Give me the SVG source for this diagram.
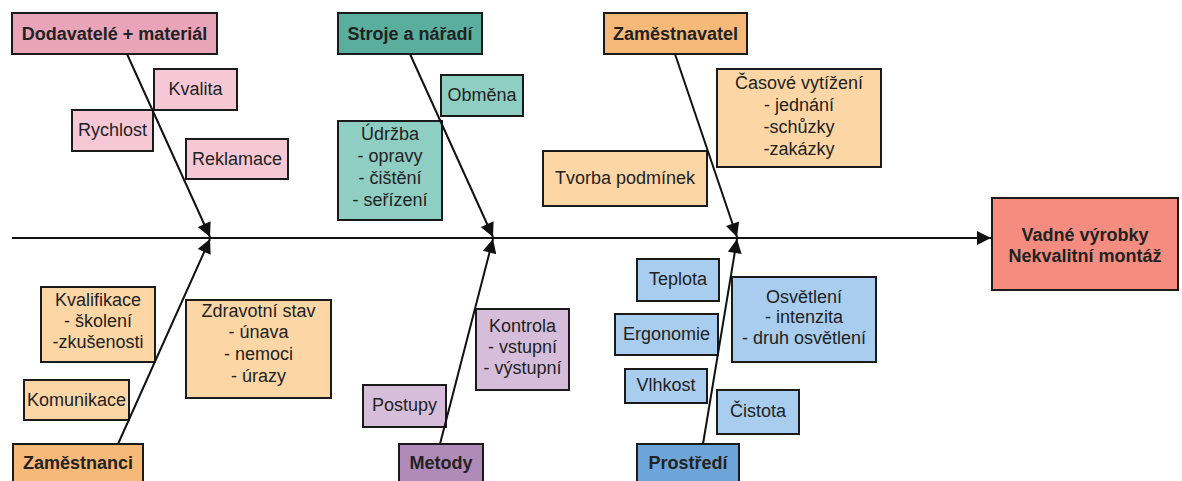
<svg xmlns="http://www.w3.org/2000/svg" width="1182" height="481" viewBox="0 0 1182 481">
<style>
rect{stroke:#1a1a1a;stroke-width:2}
text{font-family:"Liberation Sans",Arial,sans-serif;font-size:18px;fill:#222;text-anchor:middle}
.h{font-weight:bold;font-size:18px}
.pinkH{fill:#e9a4ba}.pink{fill:#f6c8d6}
.tealH{fill:#5aae9e}.teal{fill:#8fcfc3}
.orH{fill:#f7b978}.or{fill:#fdd6a5}
.purH{fill:#b08ab8}.pur{fill:#d6bedb}
.bluH{fill:#6ea5d8}.blu{fill:#a8cdee}
.eff{fill:#f58c80}
.c{stroke:#111;stroke-width:2;fill:none}
</style>
<defs>
<marker id="ah" viewBox="0 0 10 10" refX="10" refY="5" markerWidth="8" markerHeight="7" markerUnits="strokeWidth" orient="auto"><path d="M0,0 L10,5 L0,10 z" fill="#111"/></marker>
</defs>
<rect width="1182" height="481" fill="#fff" style="stroke:none"/>

<g id="dodavatele">
<rect class="pinkH" x="12" y="13" width="205" height="41"/>
<text class="h" x="114.5" y="40">Dodavatelé + materiál</text>
</g>
<g id="kvalita"><rect class="pink" x="154" y="69" width="83" height="41"/><text x="195.5" y="95">Kvalita</text></g>
<g id="rychlost"><rect class="pink" x="72" y="110" width="81" height="41"/><text x="112.5" y="136">Rychlost</text></g>
<g id="reklamace"><rect class="pink" x="186" y="139" width="102" height="40"/><text x="237" y="165">Reklamace</text></g>

<g id="stroje">
<rect class="tealH" x="338" y="13" width="144" height="41"/>
<text class="h" x="410" y="40">Stroje a nářadí</text>
</g>
<g id="obmena"><rect class="teal" x="441" y="75" width="82" height="41"/><text x="482" y="101">Obměna</text></g>
<g id="udrzba"><rect class="teal" x="338" y="121" width="104" height="99"/>
<text x="390" y="140">Údržba</text><text x="390" y="162">- opravy</text><text x="390" y="184">- čištění</text><text x="390" y="206">- seřízení</text></g>

<g id="zamestnavatel">
<rect class="orH" x="604" y="13" width="143" height="41"/>
<text class="h" x="675.5" y="40">Zaměstnavatel</text>
</g>
<g id="casove"><rect class="or" x="717" y="69" width="164" height="98"/>
<text x="799" y="89">Časové vytížení</text><text x="799" y="111">- jednání</text><text x="799" y="133">-schůzky</text><text x="799" y="155">-zakázky</text></g>
<g id="tvorba"><rect class="or" x="543" y="151" width="164" height="55"/><text x="625" y="184">Tvorba podmínek</text></g>

<g id="zamestnanci">
<rect class="orH" x="13" y="444" width="130" height="44"/>
<text class="h" x="78" y="469">Zaměstnanci</text>
</g>
<g id="kvalifikace"><rect class="or" x="41" y="287" width="114" height="75"/>
<text x="98" y="306">Kvalifikace</text><text x="98" y="327">- školení</text><text x="98" y="348">-zkušenosti</text></g>
<g id="komunikace"><rect class="or" x="24" y="380" width="105" height="40"/><text x="76.5" y="406">Komunikace</text></g>
<g id="zdravotni"><rect class="or" x="186" y="300" width="145" height="98"/>
<text x="258.5" y="317">Zdravotní stav</text><text x="258.5" y="338">- únava</text><text x="258.5" y="360">- nemoci</text><text x="258.5" y="382">- úrazy</text></g>

<g id="metody">
<rect class="purH" x="399" y="444" width="84" height="44"/>
<text class="h" x="441" y="469">Metody</text>
</g>
<g id="postupy"><rect class="pur" x="363" y="385" width="83" height="42"/><text x="404.5" y="411">Postupy</text></g>
<g id="kontrola"><rect class="pur" x="476" y="309" width="93" height="81"/>
<text x="522.5" y="332">Kontrola</text><text x="522.5" y="353">- vstupní</text><text x="522.5" y="374">- výstupní</text></g>

<g id="prostredi">
<rect class="bluH" x="637" y="444" width="102" height="44"/>
<text class="h" x="688" y="469">Prostředí</text>
</g>
<g id="teplota"><rect class="blu" x="637" y="259" width="82" height="42"/><text x="678" y="285">Teplota</text></g>
<g id="ergonomie"><rect class="blu" x="615" y="314" width="103" height="41"/><text x="666.5" y="340">Ergonomie</text></g>
<g id="vlhkost"><rect class="blu" x="625" y="369" width="82" height="34"/><text x="666" y="391">Vlhkost</text></g>
<g id="osvetleni"><rect class="blu" x="732" y="277" width="144" height="85"/>
<text x="804" y="303">Osvětlení</text><text x="804" y="323">- intenzita</text><text x="804" y="344">- druh osvětlení</text></g>
<g id="cistota"><rect class="blu" x="717" y="390" width="82" height="44"/><text x="758" y="417">Čistota</text></g>

<g id="effect">
<rect class="eff" x="992" y="198" width="186" height="92"/>
<text class="h" x="1085" y="241">Vadné výrobky</text>
<text class="h" x="1085" y="262">Nekvalitní montáž</text>
</g>

<g id="connectors">
<line class="c" x1="12" y1="238" x2="991" y2="238" marker-end="url(#ah)"/>
<line class="c" x1="127" y1="54" x2="210" y2="237" marker-end="url(#ah)"/>
<line class="c" x1="410" y1="54" x2="493" y2="237" marker-end="url(#ah)"/>
<line class="c" x1="675" y1="54" x2="737" y2="237" marker-end="url(#ah)"/>
<line class="c" x1="118" y1="444" x2="210" y2="239" marker-end="url(#ah)"/>
<line class="c" x1="440" y1="444" x2="493" y2="239" marker-end="url(#ah)"/>
<line class="c" x1="703" y1="444" x2="737" y2="239" marker-end="url(#ah)"/>
</g>
</svg>
